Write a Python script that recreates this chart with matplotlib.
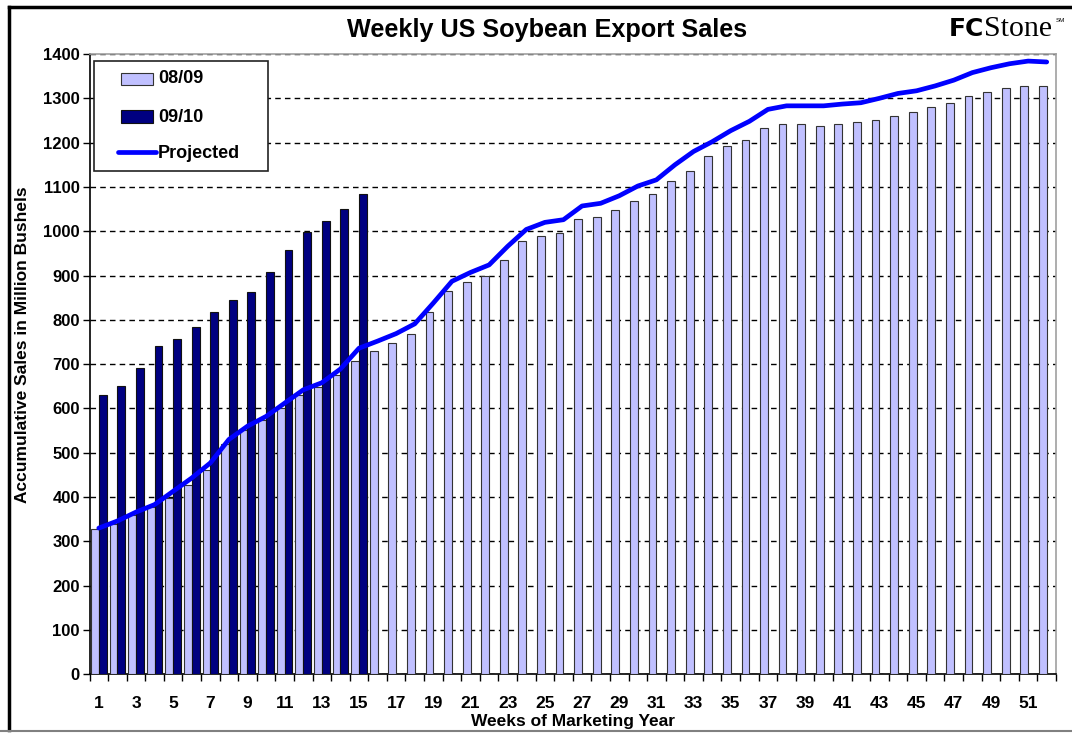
import numpy as np
import matplotlib
matplotlib.use("Agg")
import matplotlib.pyplot as plt
from matplotlib.patches import Rectangle
from matplotlib.lines import Line2D

plt.rcParams['font.family'] = ['Liberation Sans', 'DejaVu Sans']

weeks = np.arange(1, 53)
week_labels = [str(w) if w % 2 == 1 else '' for w in weeks]

# accumulative sales, million bushels
sales_0809 = [328, 340, 360, 378, 398, 428, 462, 520, 552, 575, 600, 630, 648, 676, 706,
              729, 748, 767, 818, 866, 885, 898, 936, 977, 990, 997, 1028, 1031, 1047, 1069,
              1085, 1114, 1137, 1169, 1193, 1206, 1232, 1241, 1241, 1237, 1241, 1246, 1251,
              1260, 1268, 1280, 1289, 1306, 1315, 1324, 1328, 1328]
sales_0910 = [631, 650, 691, 742, 757, 783, 818, 844, 863, 907, 958, 998, 1022, 1050, 1085]
projected = [330, 346, 366, 383, 413, 443, 477, 530, 560, 582, 612, 642, 658, 689, 736,
             752, 769, 791, 838, 887, 907, 924, 966, 1004, 1020, 1026, 1057, 1063, 1080, 1102,
             1116, 1150, 1180, 1202, 1227, 1248, 1275, 1283, 1283, 1283, 1287, 1290, 1300,
             1311, 1317, 1328, 1341, 1358, 1369, 1378, 1384, 1382]

light = '#C0C0FF'
navy = '#000080'
blue = '#0000FF'
bw = 0.42

fig = plt.figure(figsize=(10.72, 7.33), dpi=100)
ax = fig.add_axes([89.5 / 1072, 58.7 / 733, 966.5 / 1072, 620.3 / 733])

ax.bar(weeks - bw / 2, sales_0809, width=bw, color=light, edgecolor='#333333', linewidth=0.8, zorder=3)
ax.bar(weeks[:len(sales_0910)] + bw / 2, sales_0910, width=bw, color=navy, edgecolor='#111111',
       linewidth=0.8, zorder=3)
ax.plot(weeks, projected, color=blue, lw=3.4, solid_capstyle='round', solid_joinstyle='round', zorder=4)

ax.set_xlim(0.5, 52.5)
ax.set_ylim(0, 1400)
ax.set_yticks(np.arange(0, 1401, 100))
ax.set_xticks(weeks)
ax.set_xticklabels(week_labels)
ax.set_xticks(np.arange(0.5, 53, 1), minor=True)
ax.tick_params(axis='x', which='major', length=0, pad=15.5, labelsize=12.5)
ax.tick_params(axis='x', which='minor', length=5, width=1, direction='out')
ax.tick_params(axis='y', length=5, width=1, direction='out', pad=2, labelsize=12)
for lab in ax.get_xticklabels() + ax.get_yticklabels():
    lab.set_fontweight('bold')

ax.set_axisbelow(True)
ax.yaxis.grid(True, color='black', linestyle=(0, (4, 3)), linewidth=1)
for s in ['top', 'right']:
    ax.spines[s].set_color('#A0A0A0')
    ax.spines[s].set_linewidth(1.2)
for s in ['left', 'bottom']:
    ax.spines[s].set_color('black')
    ax.spines[s].set_linewidth(1.2)

ax.set_xlabel('Weeks of Marketing Year', fontsize=12.5, fontweight='bold', labelpad=2.5)
ax.set_ylabel('Accumulative Sales in Million Bushels', fontsize=12.5, fontweight='bold')
ax.yaxis.set_label_coords(-0.0616, 0.531)

# legend box drawn by hand to get Excel-like padding
tr = ax.transAxes
ax.add_patch(Rectangle((0.005, 0.8119), 0.1794, 0.1768, transform=tr, facecolor='white',
                       edgecolor='#222222', linewidth=1.2, zorder=6))
ax.add_patch(Rectangle((0.0326, 0.95), 0.0331, 0.0193, transform=tr, facecolor=light,
                       edgecolor='#333333', linewidth=0.8, zorder=7))
ax.add_patch(Rectangle((0.0326, 0.8892), 0.0331, 0.0203, transform=tr, facecolor=navy,
                       edgecolor='#111111', linewidth=0.8, zorder=7))
ax.add_line(Line2D([0.0298, 0.0685], [0.8425, 0.8425], transform=tr, color=blue, lw=3.4,
                   solid_capstyle='round', zorder=7))
for y, t in zip([0.9597, 0.8984, 0.8388], ['08/09', '09/10', 'Projected']):
    ax.text(0.0707, y, t, transform=tr, fontsize=13, fontweight='bold', va='center', ha='left', zorder=8)

fig.text(547 / 1072, 1 - 30 / 733, 'Weekly US Soybean Export Sales', ha='center', va='center',
         fontsize=18.2, fontweight='bold')

# logo
fig.text(949 / 1072, 1 - 36 / 733, 'FC', ha='left', va='baseline', fontsize=18, fontweight='heavy',
         family='DejaVu Sans')
fig.text(984 / 1072, 1 - 36 / 733, 'Stone', ha='left', va='baseline', fontsize=21.5,
         family='Liberation Serif')
fig.text(1056 / 1072, 1 - 21 / 733, 'SM', ha='left', va='center', fontsize=4.5, family='Liberation Sans')

# outer frame of the screenshot
fig.add_artist(Line2D([9 / 1072, 1], [1 - 7 / 733, 1 - 7 / 733], transform=fig.transFigure,
                      color='black', lw=2.5))
fig.add_artist(Line2D([9 / 1072, 9 / 1072], [1 - 7 / 733, 3 / 733], transform=fig.transFigure,
                      color='black', lw=2.5))
fig.add_artist(Line2D([0, 1], [2 / 733, 2 / 733], transform=fig.transFigure, color='#808080', lw=1.5))

fig.savefig('out.png', dpi=100)
